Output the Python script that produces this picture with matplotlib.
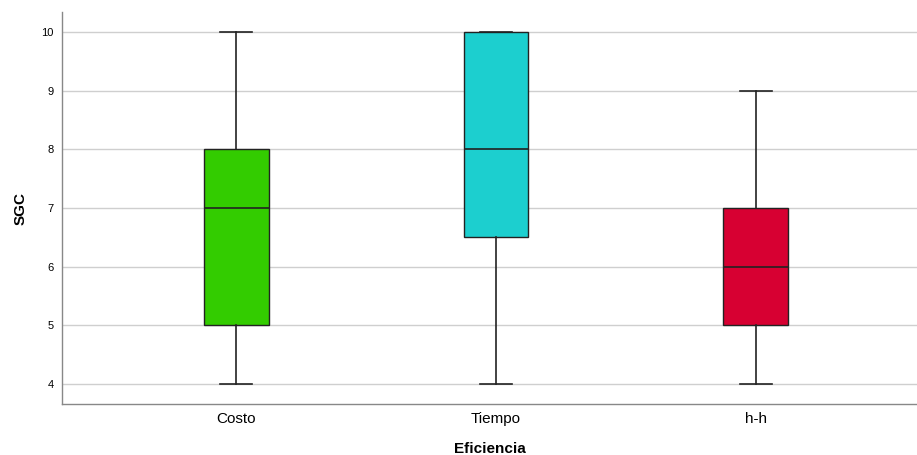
import matplotlib
matplotlib.use("Agg")
import matplotlib.pyplot as plt

plt.rcParams['font.family'] = ['Liberation Sans', 'DejaVu Sans']

# Box plot summaries
groups = ['Costo', 'Tiempo', 'h-h']
mins = [4, 4, 4]
q1s = [5, 6.5, 5]
medians = [7, 8, 6]
q3s = [8, 10, 7]
maxs = [10, 10, 9]
colors = ['#33cc00', '#1ccfcf', '#d70032']

stats = []
for g, lo, a, m, b, hi in zip(groups, mins, q1s, medians, q3s, maxs):
    stats.append({'label': g, 'whislo': lo, 'q1': a, 'med': m, 'q3': b, 'whishi': hi, 'fliers': []})

fig = plt.figure(figsize=(9.17, 4.55), dpi=100)
ax = fig.add_axes([0.0676, 0.112, 0.9324, 0.8616])

bp = ax.bxp(stats, positions=range(len(groups)), widths=0.25, patch_artist=True,
            showfliers=False,
            boxprops=dict(edgecolor='#222222', linewidth=1.0),
            medianprops=dict(color='#222222', linewidth=1.2),
            whiskerprops=dict(color='#222222', linewidth=1.2),
            capprops=dict(color='#222222', linewidth=1.2),
            capwidths=0.125)
for patch, c in zip(bp['boxes'], colors):
    patch.set_facecolor(c)

ax.set_xlim(-0.67, 2.62)
ax.set_ylim(3.66, 10.34)
ax.set_yticks([4, 5, 6, 7, 8, 9, 10])
ax.yaxis.grid(True, color='#cfcfcf', linewidth=1.0)
ax.set_axisbelow(True)
ax.tick_params(axis='y', length=0, labelsize=8, pad=6)
ax.tick_params(axis='x', length=0, labelsize=11, pad=6)
for s in ['top', 'right']:
    ax.spines[s].set_visible(False)
for s in ['left', 'bottom']:
    ax.spines[s].set_color('#888888')
    ax.spines[s].set_linewidth(1.0)

ax.set_xlabel('Eficiencia', fontsize=11, fontweight='bold', labelpad=11)
ax.set_ylabel('SGC', fontsize=11, fontweight='bold', labelpad=10)

fig.savefig('out.png', dpi=100)
